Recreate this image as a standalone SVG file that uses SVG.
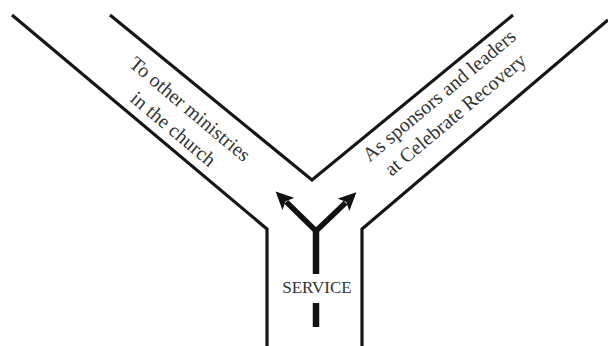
<svg xmlns="http://www.w3.org/2000/svg" width="608" height="346" viewBox="0 0 608 346">
  <style>
    .wall { fill: none; stroke: #161616; stroke-width: 3.2; stroke-linejoin: miter; }
    .lbl { font-family: "Liberation Serif", "Times New Roman", serif; font-size: 20px; fill: #333; text-anchor: middle; }
    .svc { font-family: "Liberation Serif", "Times New Roman", serif; font-size: 17px; fill: #333; text-anchor: middle; }
    .arw { fill: none; stroke: #111; stroke-width: 5.5; }
    .stem { fill: none; stroke: #111; stroke-width: 6.5; }
  </style>
  <defs>
    <marker id="head" viewBox="0 0 18 17" refX="3" refY="8.5" markerWidth="18" markerHeight="17" markerUnits="userSpaceOnUse" orient="auto">
      <path d="M0,0 L18,8.5 L0,17 L4,8.5 z" fill="#111"/>
    </marker>
  </defs>
  <rect width="608" height="346" fill="#fff"/>

  <g id="walls">
    <path class="wall" d="M12,15 L267,229 L267,346"/>
    <path class="wall" d="M110,15 L312,180 L513,15"/>
    <path class="wall" d="M608,20 L362,229 L362,346"/>
  </g>

  <g id="path-ministries">
    <text class="lbl" transform="translate(185.7,114.1) rotate(40)">To other ministries</text>
    <text class="lbl" transform="translate(169,134) rotate(40)">in the church</text>
  </g>

  <g id="path-celebrate-recovery">
    <text class="lbl" transform="translate(443.4,100.5) rotate(-40)">As sponsors and leaders</text>
    <text class="lbl" transform="translate(459.5,119.6) rotate(-40)">at Celebrate Recovery</text>
  </g>

  <g id="service">
    <text class="svc" x="317" y="293">SERVICE</text>
  </g>

  <g id="connectors">
    <path class="stem" d="M316,274 L316,227"/>
    <path class="stem" d="M316,303 L316,327"/>
    <path class="arw" d="M316,231 L286.3,201.9" marker-end="url(#head)"/>
    <path class="arw" d="M316,231 L345.6,202.7" marker-end="url(#head)"/>
  </g>
</svg>
